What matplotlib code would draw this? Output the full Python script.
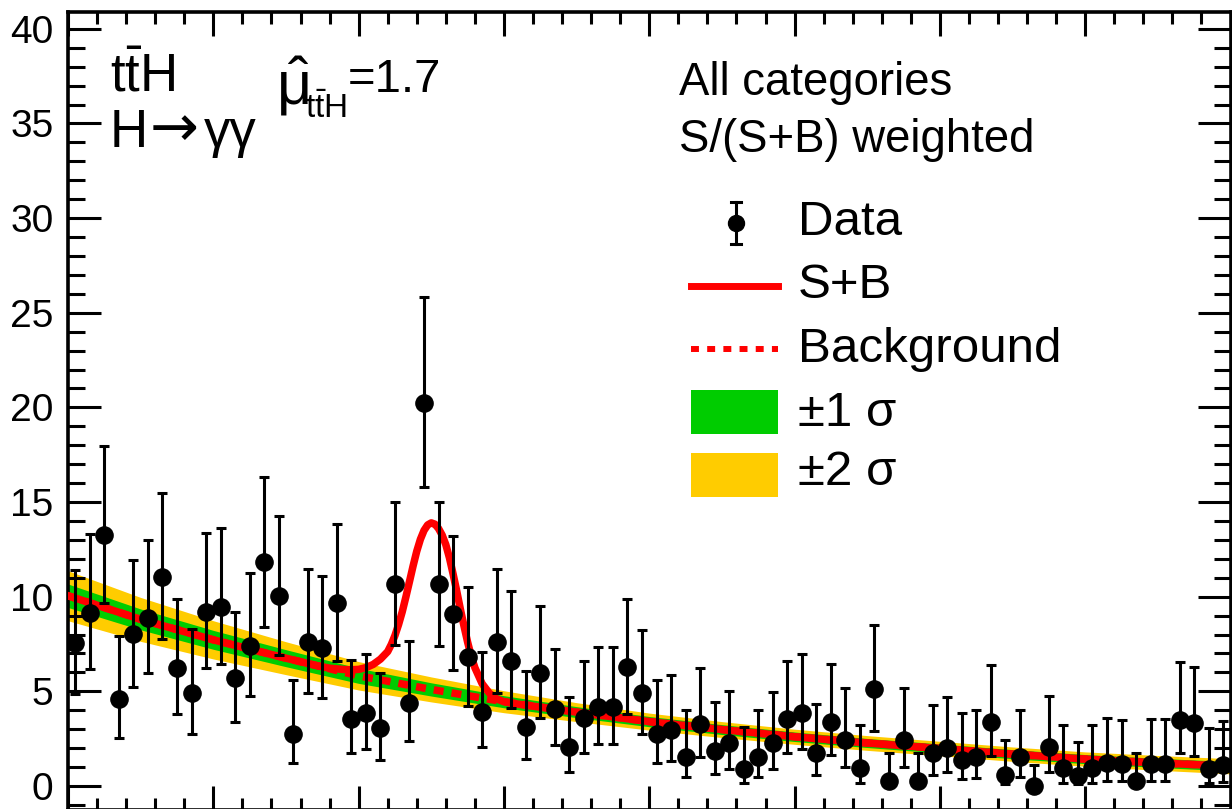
import numpy as np
import matplotlib
matplotlib.use("Agg")
import matplotlib.pyplot as plt
from matplotlib.lines import Line2D
from matplotlib.patches import Rectangle
from matplotlib.ticker import MultipleLocator

plt.rcParams['font.family'] = ['Liberation Sans', 'DejaVu Sans']
plt.rcParams['mathtext.fontset'] = 'custom'
plt.rcParams['mathtext.rm'] = 'Liberation Sans'
plt.rcParams['mathtext.it'] = 'Liberation Sans:italic'
plt.rcParams['mathtext.bf'] = 'Liberation Sans:bold'

W, H = 1232, 809

# --- data: weighted diphoton mass spectrum, 1 GeV bins from 100 to 180 GeV ---
bin_width = 1.0
mass = np.arange(100.0, 180.0, bin_width) + bin_width / 2

events = [7.54, 9.15, 13.24, 4.61, 8.01, 8.89, 11.06, 6.25, 4.89, 9.21,
          9.47, 5.68, 7.39, 11.81, 10.02, 2.74, 7.61, 7.27, 9.65, 3.56,
          3.84, 3.05, 10.67, 4.40, 20.23, 10.65, 9.07, 6.80, 3.93, 7.61,
          6.62, 3.13, 5.95, 4.05, 2.08, 3.57, 4.15, 4.15, 6.27, 4.89,
          2.75, 2.96, 1.55, 3.26, 1.85, 2.29, 0.92, 1.55, 2.25, 3.56,
          3.86, 1.76, 3.40, 2.43, 0.93, 5.12, 0.28, 2.43, 0.28, 1.73,
          2.02, 1.37, 1.51, 3.36, 0.58, 1.55, 0.00, 2.08, 0.93, 0.53,
          0.93, 1.20, 1.16, 0.28, 1.16, 1.16, 3.49, 3.31, 0.88, 1.11]

# upper / lower end of each error bar
events_hi = [11.41, 13.29, 17.98, 7.92, 11.94, 12.99, 15.49, 9.88, 8.27, 13.36,
             13.61, 9.21, 11.27, 16.32, 14.28, 5.58, 11.48, 11.09, 13.84, 6.64,
             6.97, 5.97, 15.02, 7.64, 25.83, 15.02, 13.19, 10.53, 7.10, 11.48,
             10.30, 6.09, 9.52, 7.24, 4.72, 6.62, 7.36, 7.36, 9.86, 8.24,
             5.58, 5.86, 4.03, 6.23, 4.42, 5.02, 3.13, 4.03, 4.95, 6.62,
             6.97, 4.33, 6.43, 5.19, 3.22, 8.52, 1.76, 5.19, 1.76, 4.28,
             4.72, 3.84, 4.00, 6.37, 2.43, 4.03, 1.13, 4.74, 3.22, 2.32,
             3.22, 3.59, 3.49, 1.76, 3.52, 3.54, 6.57, 6.27, 3.05, 3.43]
events_lo = [4.86, 6.18, 9.65, 2.55, 5.23, 5.97, 7.78, 3.82, 2.76, 6.25,
             6.43, 3.38, 4.75, 8.42, 6.90, 1.20, 4.89, 4.63, 6.60, 1.76,
             1.97, 1.39, 7.45, 2.38, 15.78, 7.41, 6.13, 4.24, 2.04, 4.89,
             4.12, 1.44, 3.59, 2.15, 0.76, 1.76, 2.20, 2.20, 3.82, 2.77,
             1.20, 1.32, 0.46, 1.55, 0.63, 0.90, 0.14, 0.46, 0.88, 1.76,
             1.97, 0.58, 1.65, 0.99, 0.18, 2.92, 0.00, 0.99, 0.00, 0.56,
             0.74, 0.37, 0.42, 1.60, 0.09, 0.46, 0.00, 0.74, 0.18, 0.09,
             0.18, 0.28, 0.25, 0.00, 0.25, 0.25, 1.74, 1.57, 0.16, 0.23]

# background-only fit and its uncertainty bands
bkg_mass = [100, 105, 110, 115, 120, 125, 130, 135, 140,
            145, 150, 155, 160, 165, 170, 175, 180]
bkg = [10.05, 8.80, 7.72, 6.75, 5.82, 5.10, 4.45, 3.90, 3.40,
       2.98, 2.60, 2.27, 1.98, 1.68, 1.42, 1.22, 1.04]
bkg_2sigma = [1.32, 1.16, 1.01, 0.87, 0.75, 0.66, 0.58, 0.50, 0.45,
              0.42, 0.40, 0.39, 0.38, 0.38, 0.38, 0.39, 0.40]
bkg_1sigma = [0.62, 0.55, 0.50, 0.45, 0.40, 0.35, 0.32, 0.29, 0.27,
              0.26, 0.25, 0.24, 0.24, 0.24, 0.24, 0.24, 0.25]

# signal + background fit
sb_mass = [100, 105, 110, 115, 117, 118, 119, 119.5, 120, 120.5, 121, 121.5,
           122, 122.25, 122.5, 122.75, 123, 123.25, 123.5, 123.75, 124, 124.25,
           124.5, 124.75, 125, 125.25, 125.5, 125.75, 126, 126.25, 126.5,
           126.75, 127, 127.25, 127.5, 127.75, 128, 128.5, 129, 129.5, 130,
           131, 135, 140, 145, 150, 155, 160, 165, 170, 175, 180]
sb = [10.05, 8.80, 7.72, 6.75, 6.38, 6.22, 6.15, 6.14, 6.16, 6.25, 6.42, 6.70,
      7.10, 7.48, 7.95, 8.53, 9.20, 9.98, 10.80, 11.63, 12.40, 13.03,
      13.50, 13.79, 13.90, 13.83, 13.60, 13.25, 12.75, 12.05, 11.20,
      10.30, 9.35, 8.45, 7.60, 6.85, 6.25, 5.40, 4.90, 4.60, 4.45,
      4.32, 3.90, 3.40, 2.98, 2.60, 2.27, 1.98, 1.68, 1.42, 1.22, 1.04]

RED = '#ff0000'
GREEN = '#00cc00'
YELLOW = '#ffcc00'

fig = plt.figure(figsize=(W / 100, H / 100), dpi=100)
ax = fig.add_axes([68 / W, 1 - 810 / H, 1162.5 / W, 798 / H])
ax.set_xlim(100, 180)
ax.set_ylim(-1.27, 40.89)

bkg_arr = np.array(bkg)
ax.fill_between(bkg_mass, bkg_arr - np.array(bkg_2sigma), bkg_arr + np.array(bkg_2sigma),
                color=YELLOW, lw=0, zorder=1)
ax.fill_between(bkg_mass, bkg_arr - np.array(bkg_1sigma), bkg_arr + np.array(bkg_1sigma),
                color=GREEN, lw=0, zorder=2)
ax.plot(bkg_mass, bkg, color=RED, lw=5.4, ls=(0, (1.33, 1.07)), zorder=3)
ax.plot(sb_mass, sb, color=RED, lw=5.4, solid_joinstyle='round', zorder=4)

ev = np.array(events)
yerr = [ev - np.array(events_lo), np.array(events_hi) - ev]
ax.errorbar(mass, ev, yerr=yerr, fmt='o', color='black', ms=12.4,
            elinewidth=2.2, capsize=3.8, capthick=2.2, zorder=5)

for s in ax.spines.values():
    s.set_linewidth(2.6)
ax.xaxis.set_major_locator(MultipleLocator(10))
ax.xaxis.set_minor_locator(MultipleLocator(2))
ax.yaxis.set_major_locator(MultipleLocator(5))
ax.yaxis.set_minor_locator(MultipleLocator(1))
ax.tick_params(which='both', direction='in', top=True, right=True,
               labelbottom=False, width=2.2, color='black')
ax.tick_params(axis='y', which='major', length=24, labelsize=28, pad=10.5)
ax.tick_params(axis='y', which='minor', length=12)
ax.tick_params(axis='x', which='major', length=17)
ax.tick_params(axis='x', which='minor', length=8.6)


def fx(px):
    return px / W


def fy(py):
    return 1 - py / H


# labels in the top left corner
fig.text(fx(110), fy(92), r'$\mathrm{t\bar{t}H}$', fontsize=38, va='baseline')
fig.text(fx(110), fy(147), 'H', fontsize=38, va='baseline')
fig.text(fx(150), fy(146), '\u2192', fontsize=42, va='baseline', family='DejaVu Sans')
fig.text(fx(204), fy(147), '\u03b3\u03b3', fontsize=38, va='baseline')
fig.text(fx(276), fy(104), r'$\hat{\mathrm{\mu}}$', fontsize=44, va='baseline')
fig.text(fx(305), fy(118), r'$\mathrm{t\bar{t}H}$', fontsize=24, va='baseline')
fig.text(fx(348), fy(92), '=1.7', fontsize=34, va='baseline')

fig.text(fx(679), fy(95), 'All categories', fontsize=32.8, va='baseline')
fig.text(fx(679), fy(152), 'S/(S+B) weighted', fontsize=32.8, va='baseline')

# legend
tf = fig.transFigure
fig.add_artist(Line2D([fx(736), fx(736)], [fy(202), fy(244)], color='black', lw=2.2, transform=tf))
for cy in (202, 244):
    fig.add_artist(Line2D([fx(731), fx(741)], [fy(cy), fy(cy)], color='black', lw=2.2, transform=tf))
fig.add_artist(Line2D([fx(736)], [fy(223)], marker='o', ms=11.5, color='black', transform=tf))
fig.add_artist(Line2D([fx(691), fx(778)], [fy(286), fy(286)], color=RED, lw=5, transform=tf))
fig.add_artist(Line2D([fx(691), fx(778)], [fy(349), fy(349)], color=RED, lw=4.3,
                      ls=(0, (1.33, 1.38)), transform=tf))
fig.add_artist(Rectangle((fx(691), fy(434)), 87 / W, 44 / H, color=GREEN, lw=0, transform=tf))
fig.add_artist(Rectangle((fx(691), fy(497)), 87 / W, 44 / H, color=YELLOW, lw=0, transform=tf))

leg_labels = ['Data', 'S+B', 'Background', '\u00b11 \u03c3', '\u00b12 \u03c3']
leg_baselines = [235, 298, 362, 426, 485]
for lab, by in zip(leg_labels, leg_baselines):
    fig.text(fx(798), fy(by), lab, fontsize=35.5, va='baseline')

fig.savefig('out.png', dpi=100)
